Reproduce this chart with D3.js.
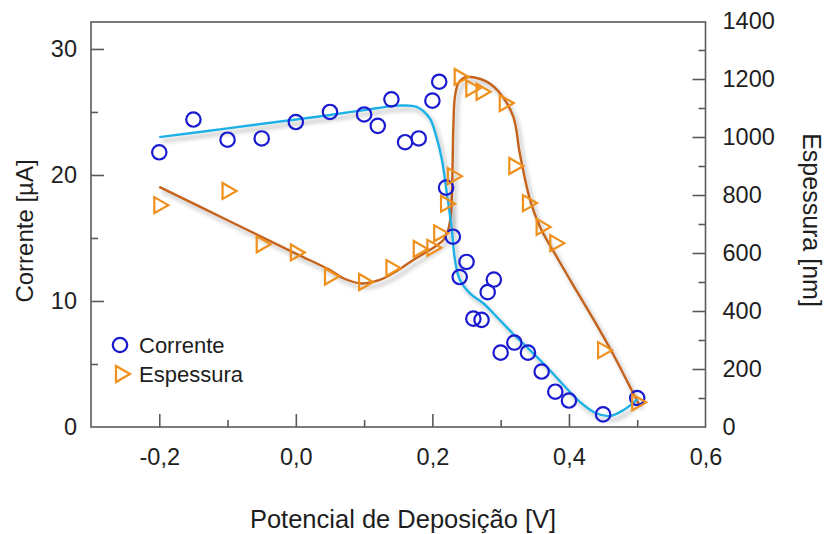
<!DOCTYPE html>
<html>
<head>
<meta charset="utf-8">
<script src="https://cdn.jsdelivr.net/npm/d3@7"></script>
<style>
  html, body { margin: 0; padding: 0; background: #ffffff; }
  svg { display: block; font-family: "Liberation Sans", Arial, Helvetica, sans-serif; }
</style>
</head>
<body>
<svg id="chart" width="825" height="534"></svg>
<script>
// Measured current vs. deposition potential
const potencialCorrente = [-0.2, -0.15, -0.1, -0.05, 0.0, 0.05, 0.1, 0.12, 0.14, 0.16, 0.18, 0.2, 0.21, 0.22, 0.23, 0.24, 0.25, 0.26, 0.272, 0.281, 0.29, 0.3, 0.32, 0.34, 0.36, 0.38, 0.4, 0.45, 0.5];
const corrente = [21.8, 24.4, 22.8, 22.9, 24.2, 25.0, 24.8, 23.9, 26.0, 22.6, 22.9, 25.9, 27.4, 19.0, 15.1, 11.9, 13.1, 8.6, 8.5, 10.7, 11.7, 5.9, 6.7, 5.9, 4.4, 2.8, 2.1, 1.0, 2.3];

// Measured film thickness vs. deposition potential
const potencialEspessura = [-0.2, -0.1, -0.05, 0.0, 0.05, 0.1, 0.14, 0.18, 0.2, 0.21, 0.22, 0.23, 0.24, 0.257, 0.272, 0.306, 0.32, 0.34, 0.36, 0.38, 0.45, 0.5];
const espessura = [765, 814, 630, 602, 519, 500, 548, 614, 618, 668, 770, 865, 1207, 1168, 1156, 1117, 900, 772, 690, 634, 265, 85];

// Guide-line (trend) through the current data
const tendCorrenteX = [-0.2, -0.1, 0.0, 0.05, 0.1, 0.15, 0.177, 0.196, 0.206, 0.214, 0.221, 0.228, 0.233, 0.24, 0.255, 0.275, 0.294, 0.318, 0.343, 0.367, 0.392, 0.416, 0.44, 0.46, 0.48, 0.5];
const tendCorrenteY = [23.0, 23.7, 24.4, 24.76, 25.15, 25.5, 25.4, 24.5, 23.0, 21.2, 18.6, 15.9, 13.3, 11.7, 10.6, 9.8, 8.75, 7.4, 6.1, 4.8, 3.33, 2.0, 1.09, 0.87, 1.35, 2.2];

// Guide-line (trend) through the thickness data
const tendEspessuraX = [-0.2, -0.1, 0.0, 0.05, 0.0695, 0.0965, 0.123, 0.148, 0.172, 0.196, 0.216, 0.223, 0.2268, 0.2287, 0.2297, 0.2307, 0.233, 0.238, 0.2477, 0.26, 0.2795, 0.299, 0.3185, 0.328, 0.343, 0.3576, 0.382, 0.411, 0.44, 0.465, 0.489, 0.503];
const tendEspessuraY = [828, 713, 598, 541, 513, 495, 507, 538, 576, 610, 645, 679, 725, 806, 921, 1035, 1139, 1185, 1206, 1206, 1191, 1151, 1070, 944, 783, 690, 587, 470, 355, 250, 140, 76];

// Axis ticks
const xTicksMajor = [-0.2, 0.0, 0.2, 0.4, 0.6];
const xTicksMinor = [-0.1, 0.1, 0.3, 0.5];
const yLeftTicksMajor = [0, 10, 20, 30];
const yLeftTicksMinor = [5, 15, 25];
const yRightTicksMajor = [0, 200, 400, 600, 800, 1000, 1200, 1400];
const yRightTicksMinor = [100, 300, 500, 700, 900, 1100, 1300];

const svg = d3.select("#chart");
const plotL = 91, plotR = 705.5, plotT = 22, plotB = 427;

const x = d3.scaleLinear().domain([-0.3, 0.6]).range([plotL, plotR]);
const yL = d3.scaleLinear().domain([0, 32.14]).range([plotB, plotT]);
const yR = d3.scaleLinear().domain([0, 1400]).range([plotB, 21]);

const ptBR = d3.formatLocale({ decimal: ",", thousands: ".", grouping: [3], currency: ["R$", ""], minus: "-" });
const fmtX = ptBR.format(".1f");

const axisColor = "#5a5a5a";
const textColor = "#1e1e1e";
const tickFont = "23.5px";

// soft drop shadow under the trend lines
const defs = svg.append("defs");
const f = defs.append("filter").attr("id", "sombra").attr("x", "-10%").attr("y", "-10%").attr("width", "120%").attr("height", "120%");
f.append("feGaussianBlur").attr("in", "SourceAlpha").attr("stdDeviation", 2.2).attr("result", "b");
f.append("feOffset").attr("in", "b").attr("dx", 3).attr("dy", 4).attr("result", "o");
f.append("feFlood").attr("flood-color", "#000").attr("flood-opacity", 0.3).attr("result", "c");
f.append("feComposite").attr("in", "c").attr("in2", "o").attr("operator", "in").attr("result", "s");
const fm = f.append("feMerge");
fm.append("feMergeNode").attr("in", "s");
fm.append("feMergeNode").attr("in", "SourceGraphic");

// Axes
function styleAxis(g) {
  g.select(".domain").remove();
  g.selectAll(".tick line").attr("stroke", axisColor).attr("stroke-width", 1.6);
  g.selectAll(".tick text").attr("fill", textColor).style("font-size", tickFont);
}

svg.append("g").attr("transform", `translate(0,${plotB})`)
  .call(d3.axisBottom(x).tickValues(xTicksMajor).tickSize(-13).tickPadding(21).tickFormat(fmtX))
  .call(styleAxis)
  .call(g => g.selectAll(".tick").filter(d => Math.abs(d - 0.6) < 1e-9).select("line").remove());
svg.append("g").attr("transform", `translate(0,${plotB})`)
  .call(d3.axisBottom(x).tickValues(xTicksMinor).tickSize(-7).tickFormat(""))
  .call(styleAxis);

svg.append("g").attr("transform", `translate(${plotL},0)`)
  .call(d3.axisLeft(yL).tickValues(yLeftTicksMajor).tickSize(-13).tickPadding(14).tickFormat(d3.format("d")))
  .call(styleAxis)
  .call(g => g.selectAll(".tick").filter(d => d === 0).select("line").remove());
svg.append("g").attr("transform", `translate(${plotL},0)`)
  .call(d3.axisLeft(yL).tickValues(yLeftTicksMinor).tickSize(-7).tickFormat(""))
  .call(styleAxis);

svg.append("g").attr("transform", `translate(${plotR},0)`)
  .call(d3.axisRight(yR).tickValues(yRightTicksMajor).tickSize(-13).tickPadding(17).tickFormat(d3.format("d")))
  .call(styleAxis)
  .call(g => g.selectAll(".tick").filter(d => d === 0 || d === 1400).select("line").remove());
svg.append("g").attr("transform", `translate(${plotR},0)`)
  .call(d3.axisRight(yR).tickValues(yRightTicksMinor).tickSize(-7).tickFormat(""))
  .call(styleAxis);

// Frame
svg.append("rect").attr("x", plotL).attr("y", plotT).attr("width", plotR - plotL).attr("height", plotB - plotT)
  .attr("fill", "none").attr("stroke", axisColor).attr("stroke-width", 1.6);

// Axis titles
svg.append("text").attr("transform", `translate(24,231) rotate(-90)`)
  .attr("text-anchor", "middle").attr("dominant-baseline", "central")
  .attr("fill", textColor).style("font-size", "24px").text("Corrente [\u00b5A]");
svg.append("text").attr("transform", `translate(812,220) rotate(90)`)
  .attr("text-anchor", "middle").attr("dominant-baseline", "central")
  .attr("fill", textColor).style("font-size", "25px").text("Espessura [nm]");
svg.append("text").attr("x", 403).attr("y", 528).attr("text-anchor", "middle")
  .attr("fill", textColor).style("font-size", "25.5px").text("Potencial de Deposição [V]");

// Trend lines
const lineC = d3.line().x(d => x(d[0])).y(d => yL(d[1])).curve(d3.curveCatmullRom.alpha(0.5));
const lineE = d3.line().x(d => x(d[0])).y(d => yR(d[1])).curve(d3.curveCatmullRom.alpha(0.5));

svg.append("path").datum(d3.zip(tendEspessuraX, tendEspessuraY))
  .attr("d", lineE).attr("fill", "none").attr("stroke", "#c4621c").attr("stroke-width", 2.4)
  .attr("filter", "url(#sombra)");
svg.append("path").datum(d3.zip(tendCorrenteX, tendCorrenteY))
  .attr("d", lineC).attr("fill", "none").attr("stroke", "#1fb0e6").attr("stroke-width", 2.4)
  .attr("filter", "url(#sombra)");

// Markers
const blue = "#1a1ad0";
const orange = "#f0901c";
const tri = "M-5,-8 L-5,8 L9,0 Z";

svg.append("g").selectAll("circle").data(d3.zip(potencialCorrente, corrente)).join("circle")
  .attr("cx", d => x(d[0])).attr("cy", d => yL(d[1])).attr("r", 7.2)
  .attr("fill", "none").attr("stroke", blue).attr("stroke-width", 2.2);

svg.append("g").selectAll("path").data(d3.zip(potencialEspessura, espessura)).join("path")
  .attr("transform", d => `translate(${x(d[0])},${yR(d[1])})`).attr("d", tri)
  .attr("fill", "none").attr("stroke", orange).attr("stroke-width", 2.2).attr("stroke-linejoin", "miter");

// Legend
const leg = svg.append("g");
leg.append("circle").attr("cx", 120).attr("cy", 345).attr("r", 7.2)
  .attr("fill", "none").attr("stroke", blue).attr("stroke-width", 2.2);
leg.append("text").attr("x", 139).attr("y", 353).attr("fill", textColor).style("font-size", "22px").text("Corrente");
leg.append("path").attr("transform", "translate(121,374)").attr("d", tri)
  .attr("fill", "none").attr("stroke", orange).attr("stroke-width", 2.2);
leg.append("text").attr("x", 139).attr("y", 382).attr("fill", textColor).style("font-size", "22px").text("Espessura");
</script>
</body>
</html>
